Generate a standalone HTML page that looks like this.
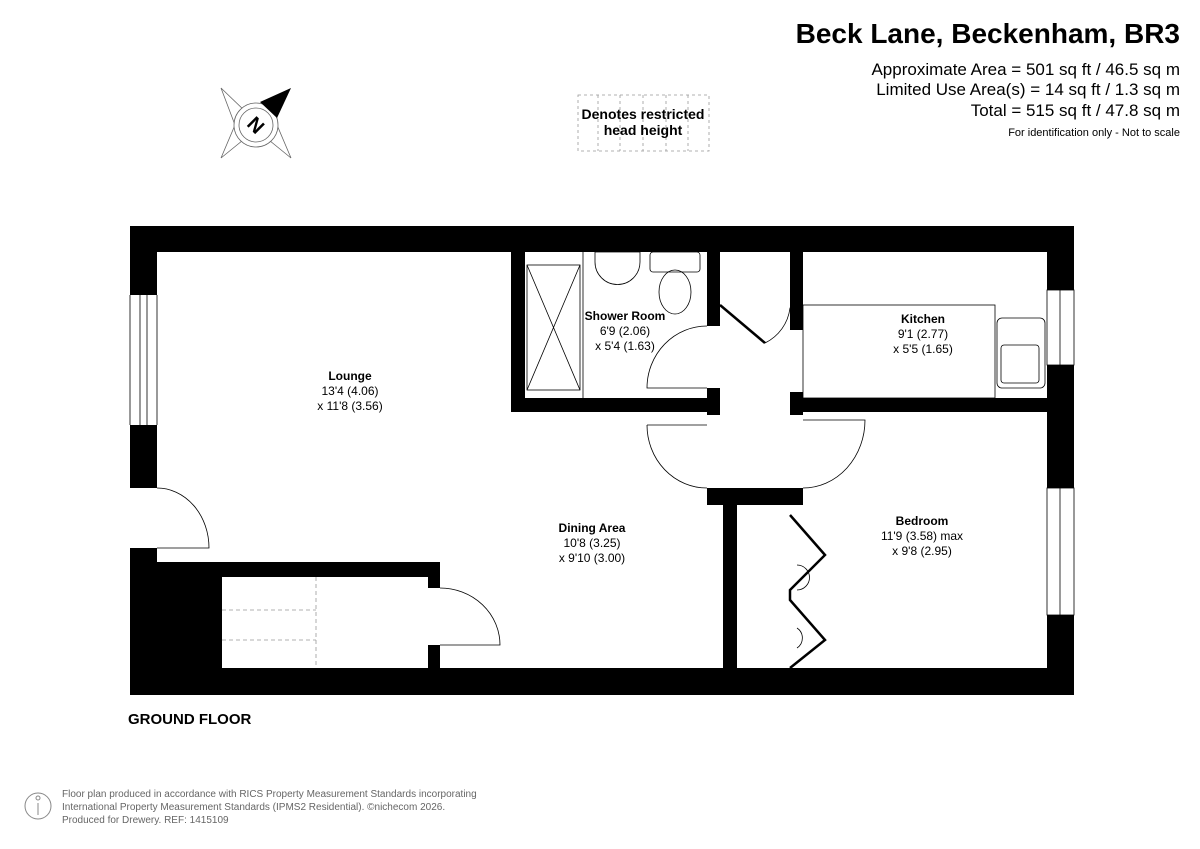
<!DOCTYPE html><html><head><meta charset="utf-8"><style>body{margin:0;background:#fff}svg{display:block}text{font-family:"Liberation Sans",Arial,sans-serif}</style></head><body>
<svg width="1200" height="849" viewBox="0 0 1200 849" xmlns="http://www.w3.org/2000/svg">
<text x="1180" y="43" text-anchor="end" font-size="28" font-weight="bold">Beck Lane, Beckenham, BR3</text>
<text x="1180" y="75" text-anchor="end" font-size="17">Approximate Area = 501 sq ft / 46.5 sq m</text>
<text x="1180" y="95" text-anchor="end" font-size="17">Limited Use Area(s) = 14 sq ft / 1.3 sq m</text>
<text x="1180" y="116" text-anchor="end" font-size="17">Total = 515 sq ft / 47.8 sq m</text>
<text x="1180" y="136" text-anchor="end" font-size="11">For identification only - Not to scale</text>
<!-- compass -->
<g stroke="#666" stroke-width="0.8" fill="none">
<polygon points="221,88 248,114 235,125"/><polygon points="221,158 248,136 235,125"/>
<polygon points="291,158 264,136 277,125"/>
<circle cx="256" cy="125" r="22" fill="#fff"/><circle cx="256" cy="125" r="17"/>
</g>
<polygon points="291,88 260,102 277,118" fill="#000"/>
<text x="256" y="132" text-anchor="middle" font-size="20" font-weight="bold" transform="rotate(45 256 125)">N</text>
<g stroke="#999" stroke-dasharray="3,3" fill="none" stroke-width="0.8"><rect x="578" y="95" width="131" height="56"/><line x1="598" y1="95" x2="598" y2="151"/><line x1="620" y1="95" x2="620" y2="151"/><line x1="643" y1="95" x2="643" y2="151"/><line x1="666" y1="95" x2="666" y2="151"/><line x1="688" y1="95" x2="688" y2="151"/></g>
<text x="643" y="119" text-anchor="middle" font-size="14" font-weight="bold">Denotes restricted</text>
<text x="643" y="135" text-anchor="middle" font-size="14" font-weight="bold">head height</text>
<!-- walls -->
<g fill="#000">
<rect x="130" y="226" width="944" height="26"/>
<rect x="130" y="668" width="944" height="27"/>
<rect x="130" y="226" width="27" height="69"/>
<rect x="130" y="425" width="27" height="63"/>
<rect x="130" y="548" width="27" height="20"/>
<rect x="130" y="562" width="92" height="110"/>
<rect x="157" y="562" width="283" height="15"/>
<rect x="428" y="562" width="12" height="26"/>
<rect x="428" y="645" width="12" height="25"/>
<rect x="1047" y="226" width="27" height="64"/>
<rect x="1047" y="365" width="27" height="123"/>
<rect x="1047" y="615" width="27" height="60"/>
<rect x="511" y="252" width="14" height="160"/>
<rect x="511" y="398" width="209" height="14"/>
<rect x="707" y="252" width="13" height="74"/>
<rect x="707" y="388" width="13" height="27"/>
<rect x="790" y="252" width="13" height="78"/>
<rect x="790" y="392" width="13" height="23"/>
<rect x="790" y="398" width="257" height="14"/>
<rect x="707" y="488" width="96" height="17"/>
<rect x="723" y="500" width="14" height="170"/>
</g>
<g stroke="#000" fill="none" stroke-width="0.8">
<line x1="140" y1="295" x2="140" y2="425"/><line x1="147" y1="295" x2="147" y2="425"/><line x1="130" y1="295" x2="130" y2="425"/><line x1="157" y1="295" x2="157" y2="425"/>
<rect x="1047" y="290" width="27" height="75"/><line x1="1060" y1="290" x2="1060" y2="365"/>
<rect x="1047" y="488" width="27" height="127"/><line x1="1060" y1="488" x2="1060" y2="615"/>
<path d="M157,488 A52,60 0 0 1 209,548 L157,548"/>
<path d="M440,588 A60,57 0 0 1 500,645 L440,645"/>
<path d="M707,326 A60,62 0 0 0 647,388 L707,388"/>
<path d="M647,425 A60,63 0 0 0 707,488"/>
<path d="M803,488 A62,68 0 0 0 865,420 L803,420"/>
<line x1="647" y1="425" x2="707" y2="425"/>
<path d="M765,343 A45,45 0 0 0 790,308 L803,308"/>
<rect x="803" y="305" width="192" height="93"/>
<rect x="997" y="318" width="48" height="70" rx="5"/><rect x="1001" y="345" width="38" height="38" rx="3"/>
<rect x="527" y="265" width="53" height="125"/><path d="M527,265 L580,390 M580,265 L527,390"/>
<line x1="583" y1="252" x2="583" y2="398"/>
<path d="M595,252 L640,252 L640,262 A22,22 0 0 1 595,262 Z"/>
<rect x="650" y="252" width="50" height="20" rx="3"/><ellipse cx="675" cy="292" rx="16" ry="22"/>
<path d="M790,505 A0,0 0 0 0 790,505"/>
<path d="M797,565 A12,12 0 0 1 797,590 M797,628 A12,12 0 0 1 797,648"/>
</g>
<g stroke="#000" stroke-width="2.5" fill="none">
<line x1="720" y1="305" x2="765" y2="343"/>
<polyline points="790,515 825,555 790,590 790,600 825,640 790,668"/>
</g>
<g stroke="#999" stroke-dasharray="4,3" stroke-width="0.8"><line x1="316" y1="577" x2="316" y2="668"/><line x1="222" y1="610" x2="316" y2="610"/><line x1="222" y1="640" x2="316" y2="640"/></g>
<g font-size="12" text-anchor="middle">
<text x="350" y="380" font-weight="bold">Lounge</text><text x="350" y="395">13'4 (4.06)</text><text x="350" y="410">x 11'8 (3.56)</text>
<text x="625" y="320" font-weight="bold">Shower Room</text><text x="625" y="335">6'9 (2.06)</text><text x="625" y="350">x 5'4 (1.63)</text>
<text x="923" y="323" font-weight="bold">Kitchen</text><text x="923" y="338">9'1 (2.77)</text><text x="923" y="353">x 5'5 (1.65)</text>
<text x="592" y="532" font-weight="bold">Dining Area</text><text x="592" y="547">10'8 (3.25)</text><text x="592" y="562">x 9'10 (3.00)</text>
<text x="922" y="525" font-weight="bold">Bedroom</text><text x="922" y="540">11'9 (3.58) max</text><text x="922" y="555">x 9'8 (2.95)</text>
</g>
<text x="128" y="724" font-size="15" font-weight="bold">GROUND FLOOR</text>
<g stroke="#888" fill="none" stroke-width="1"><circle cx="38" cy="806" r="13"/><circle cx="38" cy="798" r="2"/><line x1="38" y1="803" x2="38" y2="815"/></g>
<g font-size="10" fill="#666"><text x="62" y="797">Floor plan produced in accordance with RICS Property Measurement Standards incorporating</text><text x="62" y="810">International Property Measurement Standards (IPMS2 Residential).  ©nichecom 2026.</text><text x="62" y="823">Produced for Drewery.   REF: 1415109</text></g>
</svg></body></html>
